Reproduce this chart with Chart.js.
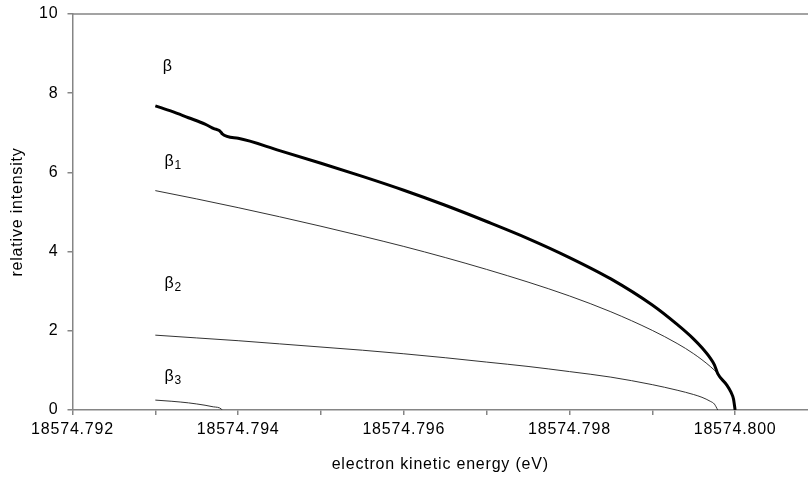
<!DOCTYPE html>
<html><head><meta charset="utf-8">
<script src="https://cdn.jsdelivr.net/npm/chart.js@4/dist/chart.umd.min.js"></script>
<style>html,body{margin:0;padding:0;background:#fff;overflow:hidden}</style>
</head><body>
<canvas id="c" width="808" height="477"></canvas>
<script>
// ---- data ----
const xTickValues = [18574.792, 18574.793, 18574.794, 18574.795, 18574.796, 18574.797, 18574.798, 18574.799, 18574.800];
const yTickValues = [0, 2, 4, 6, 8, 10];

const betaEnergy = [18574.793, 18574.7932, 18574.7934, 18574.7936, 18574.7937, 18574.7938, 18574.793804, 18574.794, 18574.7945, 18574.795, 18574.7955, 18574.796, 18574.7965, 18574.797, 18574.7975, 18574.798, 18574.7985, 18574.799, 18574.7993, 18574.7995, 18574.7996, 18574.7997, 18574.79975, 18574.79979, 18574.7999, 18574.79995, 18574.79998, 18574.8];
const betaValues = [7.68, 7.54, 7.38, 7.22, 7.11, 7.00, 6.98, 6.86, 6.55, 6.23, 5.90, 5.55, 5.17, 4.76, 4.33, 3.85, 3.31, 2.65, 2.16, 1.79, 1.57, 1.31, 1.14, 0.92, 0.63, 0.45, 0.28, 0];

const beta1Energy = [18574.793, 18574.7935, 18574.794, 18574.7945, 18574.795, 18574.7955, 18574.796, 18574.7965, 18574.797, 18574.7975, 18574.798, 18574.7985, 18574.799, 18574.7993, 18574.7995, 18574.7997, 18574.7998, 18574.7999, 18574.79995, 18574.79998, 18574.8];
const beta1Values = [5.54, 5.33, 5.11, 4.88, 4.64, 4.39, 4.13, 3.85, 3.55, 3.23, 2.88, 2.48, 2.01, 1.68, 1.42, 1.10, 0.90, 0.63, 0.45, 0.28, 0];

const beta2Energy = [18574.793, 18574.7935, 18574.794, 18574.7945, 18574.795, 18574.7955, 18574.796, 18574.7965, 18574.797, 18574.7975, 18574.798, 18574.7985, 18574.799, 18574.7993, 18574.7995, 18574.7996, 18574.7997, 18574.79975, 18574.79979];
const beta2Values = [1.89, 1.82, 1.75, 1.67, 1.59, 1.51, 1.42, 1.32, 1.21, 1.10, 0.97, 0.83, 0.64, 0.50, 0.39, 0.32, 0.22, 0.15, 0];

const beta3Energy = [18574.793, 18574.7932, 18574.7934, 18574.7936, 18574.7937, 18574.7938, 18574.793804];
const beta3Values = [0.25, 0.22, 0.18, 0.12, 0.08, 0.02, 0];

const labelSymbols = ['β', 'β', 'β', 'β'];
const labelSubscripts = ['', '1', '2', '3'];
const labelEnergy = [18574.79309, 18574.79311, 18574.79311, 18574.79311];
const labelIntensity = [8.66, 6.28, 3.18, 0.84];

const xTitle = 'electron kinetic energy (eV)';
const yTitle = 'relative intensity';

// ---- build ----
const pts = (xs, ys) => xs.map((x, i) => ({x, y: ys[i]}));
const FONT = '"Liberation Sans", Arial, sans-serif';
const AXIS = '#858585';

const spacing = {
  id: 'spacing',
  beforeDraw(chart) { chart.ctx.letterSpacing = '0.8px'; }
};

const annot = {
  id: 'annot',
  afterDatasetsDraw(chart) {
    const {ctx, chartArea, scales: {x, y}} = chart;
    ctx.save();
    ctx.strokeStyle = AXIS; ctx.lineWidth = 1.5;
    ctx.beginPath(); ctx.moveTo(chartArea.left, chartArea.top); ctx.lineTo(chartArea.right, chartArea.top); ctx.stroke();
    ctx.fillStyle = '#000'; ctx.textBaseline = 'middle'; ctx.textAlign = 'left';
    labelSymbols.forEach((s, i) => {
      const px = x.getPixelForValue(labelEnergy[i]);
      const py = y.getPixelForValue(labelIntensity[i]);
      ctx.font = '16px ' + FONT;
      ctx.fillText(s, px, py);
      if (labelSubscripts[i]) {
        const w = ctx.measureText(s).width;
        ctx.font = '12px ' + FONT;
        ctx.fillText(labelSubscripts[i], px + w, py + 4);
      }
    });
    ctx.restore();
  }
};

const thin = {borderColor: '#333', borderWidth: 1, pointRadius: 0, fill: false, cubicInterpolationMode: 'monotone'};

new Chart(document.getElementById('c'), {
  type: 'line',
  data: {
    datasets: [
      {label: 'β', data: pts(betaEnergy, betaValues), borderColor: '#000', borderWidth: 3, pointRadius: 0, fill: false, cubicInterpolationMode: 'monotone'},
      Object.assign({label: 'β1', data: pts(beta1Energy, beta1Values)}, thin),
      Object.assign({label: 'β2', data: pts(beta2Energy, beta2Values)}, thin),
      Object.assign({label: 'β3', data: pts(beta3Energy, beta3Values)}, thin)
    ]
  },
  options: {
    responsive: false,
    animation: false,
    devicePixelRatio: 1,
    layout: {padding: {top: 14, right: 0, left: 0, bottom: 0}},
    plugins: {legend: {display: false}, tooltip: {enabled: false}},
    scales: {
      x: {
        type: 'linear',
        min: 18574.792, max: 18574.80088,
        afterBuildTicks: s => { s.ticks = xTickValues.map(v => ({value: v})); },
        afterFit: s => { s.height = 67; },
        ticks: {
          autoSkip: false, maxRotation: 0, color: '#000', padding: 5,
          font: {family: FONT, size: 16},
          callback: v => (Math.round((v - 18574.792) * 1000) % 2 === 0) ? v.toFixed(3) : ''
        },
        grid: {drawOnChartArea: false, drawTicks: true, tickLength: 5, color: AXIS, lineWidth: 1.5},
        border: {display: true, color: AXIS, width: 1.5},
        title: {display: true, text: xTitle, color: '#000', font: {family: FONT, size: 16}, padding: {top: 0, bottom: 3}}
      },
      y: {
        min: 0, max: 10,
        afterBuildTicks: s => { s.ticks = yTickValues.map(v => ({value: v})); },
        afterFit: s => { s.width = 72.5; s.paddingTop = 0; s.paddingBottom = 0; },
        ticks: {color: '#000', padding: 9, font: {family: FONT, size: 16, lineHeight: 0.6}},
        grid: {drawOnChartArea: false, drawTicks: true, tickLength: 5, color: AXIS, lineWidth: 1.5},
        border: {display: true, color: AXIS, width: 1.5},
        title: {display: true, text: yTitle, color: '#000', font: {family: FONT, size: 16}, padding: {top: 8, bottom: 0}}
      }
    }
  },
  plugins: [spacing, annot]
});
</script>
</body></html>
